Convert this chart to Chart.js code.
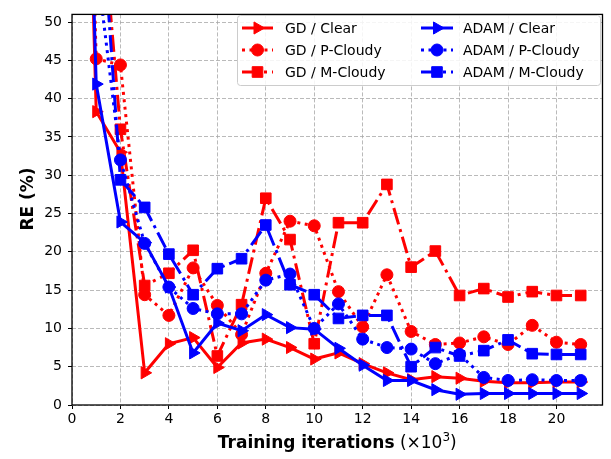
<!DOCTYPE html>
<html>
<head>
<meta charset="utf-8">
<script src="https://cdn.jsdelivr.net/npm/chart.js@4.4.1/dist/chart.umd.min.js"></script>
<style>
html,body{margin:0;padding:0;background:#fff;}
canvas{display:block;}
</style>
</head>
<body>
<canvas id="c" width="611" height="459"></canvas>
<script>
// Training iterations (x10^3)
const iterations = [0,1,2,3,4,5,6,7,8,9,10,11,12,13,14,15,16,17,18,19,20,21];
// RE (%) per series (x=0 values are off-chart, estimated)
const gdClear    = [150, 38.3, 33.0, 4.2, 8.0, 8.8, 4.9, 8.1, 8.6, 7.5, 6.0, 6.8, 5.4, 4.2, 3.3, 3.7, 3.5, 3.1, 2.9, 2.9, 3.0, 3.0];
const gdPCloudy  = [150, 45.2, 44.4, 14.4, 11.7, 17.9, 13.0, 9.2, 17.2, 24.0, 23.4, 14.8, 10.2, 17.0, 9.6, 7.9, 8.1, 8.9, 7.9, 10.4, 8.2, 7.9];
const gdMCloudy  = [150, 73.0, 36.0, 15.6, 17.2, 20.2, 6.4, 13.1, 27.0, 21.6, 8.0, 23.8, 23.8, 28.8, 18.0, 20.1, 14.3, 15.2, 14.1, 14.8, 14.3, 14.3];
const adamClear  = [150, 41.9, 23.9, 21.2, 15.4, 6.8, 10.7, 9.7, 11.8, 10.1, 9.9, 7.4, 5.2, 3.2, 3.2, 2.0, 1.4, 1.5, 1.5, 1.5, 1.5, 1.5];
const adamPCloudy= [150, 58.0, 32.0, 21.1, 15.4, 12.6, 11.9, 11.9, 16.3, 17.1, 10.0, 13.2, 8.6, 7.5, 7.3, 5.4, 6.6, 3.6, 3.2, 3.3, 3.2, 3.2];
const adamMCloudy= [150, 74.0, 29.4, 25.8, 19.7, 14.4, 17.8, 19.1, 23.5, 15.7, 14.4, 11.3, 11.7, 11.7, 5.0, 7.5, 6.4, 7.1, 8.5, 6.7, 6.6, 6.6];
const seriesLabels = ['GD / Clear','GD / P-Cloudy','GD / M-Cloudy','ADAM / Clear','ADAM / P-Cloudy','ADAM / M-Cloudy'];
const xTicks = [0,2,4,6,8,10,12,14,16,18,20];
const yTicks = [0,5,10,15,20,25,30,35,40,45,50];

const RED = '#ff0000', BLUE = '#0000ff';
const DOT = [3, 4.5];
const DASHDOT = [17, 5, 3, 5];
const styles = [
  {color: RED,  dash: [],      marker: 'tri'},
  {color: RED,  dash: DOT,     marker: 'circle'},
  {color: RED,  dash: DASHDOT, marker: 'square'},
  {color: BLUE, dash: [],      marker: 'tri'},
  {color: BLUE, dash: DOT,     marker: 'circle'},
  {color: BLUE, dash: DASHDOT, marker: 'square'}
];
const allValues = [gdClear, gdPCloudy, gdMCloudy, adamClear, adamPCloudy, adamMCloudy];

function pts(vals){ return iterations.map((x,i)=>({x:x, y:vals[i]})); }
const markerMap = {tri: {pointStyle:'triangle', rotation:90, r:7}, circle:{pointStyle:'circle', rotation:0, r:6}, square:{pointStyle:'rect', rotation:0, r:7.5}};

const datasets = allValues.map((vals,i)=>{
  const s = styles[i], m = markerMap[s.marker];
  return {
    label: seriesLabels[i],
    data: pts(vals),
    borderColor: s.color,
    backgroundColor: s.color,
    borderWidth: 3,
    borderDash: s.dash,
    borderCapStyle: 'butt',
    tension: 0,
    fill: false,
    pointStyle: m.pointStyle,
    rotation: m.rotation,
    pointRadius: m.r,
    pointBackgroundColor: s.color,
    pointBorderColor: s.color,
    pointBorderWidth: 1,
    order: 5 - i
  };
});

function drawMarker(ctx, kind, x, y, color){
  ctx.save();
  ctx.setLineDash([]);
  ctx.fillStyle = color; ctx.strokeStyle = color; ctx.lineWidth = 1;
  ctx.beginPath();
  if (kind === 'tri') {
    const r = 7; let a = Math.PI/2;
    ctx.moveTo(x + Math.sin(a)*r, y - Math.cos(a)*r);
    a += 2*Math.PI/3; ctx.lineTo(x + Math.sin(a)*r, y - Math.cos(a)*r);
    a += 2*Math.PI/3; ctx.lineTo(x + Math.sin(a)*r, y - Math.cos(a)*r);
    ctx.closePath();
  } else if (kind === 'circle') {
    ctx.arc(x, y, 6, 0, Math.PI*2);
  } else {
    const h = 7.5*Math.SQRT1_2; ctx.rect(x-h, y-h, 2*h, 2*h);
  }
  ctx.fill(); ctx.stroke();
  ctx.restore();
}

const decor = {
  id: 'decor',
  afterDatasetsDraw(chart){
    const ctx = chart.ctx, a = chart.chartArea;
    ctx.save();
    // frame
    ctx.strokeStyle = '#000'; ctx.lineWidth = 1.3; ctx.setLineDash([]);
    ctx.strokeRect(a.left, a.top, a.right - a.left, a.bottom - a.top);
    // legend box
    const bx = 237, by = 15, bw = 363, bh = 70;
    ctx.fillStyle = 'rgba(255,255,255,0.85)';
    ctx.strokeStyle = '#cccccc'; ctx.lineWidth = 1;
    ctx.beginPath();
    if (ctx.roundRect) ctx.roundRect(bx+0.5, by+0.5, bw, bh, 3); else ctx.rect(bx+0.5, by+0.5, bw, bh);
    ctx.fill(); ctx.stroke();
    const rows = [28, 50, 72];
    const cols = [{h0:242, h1:273, tx:285}, {h0:421, h1:453, tx:463}];
    ctx.font = '14px "DejaVu Sans"';
    ctx.textBaseline = 'middle'; ctx.textAlign = 'left';
    for (let i=0;i<6;i++){
      const c = cols[Math.floor(i/3)], y = rows[i%3], s = styles[i];
      ctx.save();
      ctx.strokeStyle = s.color; ctx.lineWidth = 3; ctx.lineCap = 'butt';
      ctx.setLineDash(s.dash);
      ctx.beginPath(); ctx.moveTo(c.h0, y); ctx.lineTo(c.h1, y); ctx.stroke();
      ctx.restore();
      drawMarker(ctx, s.marker, (c.h0+c.h1)/2, y, s.color);
      ctx.fillStyle = '#000';
      ctx.fillText(seriesLabels[i], c.tx, y+1);
    }
    // x title
    ctx.fillStyle = '#000';
    ctx.textBaseline = 'alphabetic';
    const cx = (a.left + a.right)/2, ty = 448;
    const p1 = 'Training iterations', p2 = ' (\u00d710', p3 = '3', p4 = ')';
    ctx.font = 'bold 17px "DejaVu Sans"'; const w1 = ctx.measureText(p1).width;
    ctx.font = '17px "DejaVu Sans"'; const w2 = ctx.measureText(p2).width, w4 = ctx.measureText(p4).width;
    ctx.font = '12px "DejaVu Sans"'; const w3 = ctx.measureText(p3).width;
    let x = cx - (w1+w2+w3+w4)/2;
    ctx.font = 'bold 17px "DejaVu Sans"'; ctx.fillText(p1, x, ty); x += w1;
    ctx.font = '17px "DejaVu Sans"'; ctx.fillText(p2, x, ty); x += w2;
    ctx.font = '12px "DejaVu Sans"'; ctx.fillText(p3, x, ty - 7); x += w3;
    ctx.font = '17px "DejaVu Sans"'; ctx.fillText(p4, x, ty);
    // y title
    ctx.save();
    ctx.translate(33, 199);
    ctx.rotate(-Math.PI/2);
    ctx.font = 'bold 17px "DejaVu Sans"';
    ctx.textAlign = 'center'; ctx.textBaseline = 'alphabetic';
    ctx.fillText('RE (%)', 0, 0);
    ctx.restore();
    ctx.restore();
  }
};

const gridOpts = {color:'#a8a8a8', lineWidth:0.8, borderDash:[4,2], tickColor:'#000', tickLength:4, tickWidth:1, tickBorderDash:[]};

new Chart(document.getElementById('c').getContext('2d'), {
  type: 'line',
  data: { datasets },
  options: {
    responsive: false, animation: false, devicePixelRatio: 1,
    layout: { padding: { left: 0, right: 6, top: 8, bottom: 0 } },
    plugins: { legend: {display:false}, tooltip: {enabled:false} },
    scales: {
      x: {
        type: 'linear', min: 0, max: 21.9,
        afterBuildTicks: s => { s.ticks = xTicks.map(v => ({value: v})); },
        afterFit: s => { s.height = 54; },
        ticks: { stepSize: 2, color:'#000', font:{family:'DejaVu Sans', size:14}, padding: 2, maxRotation:0, callback: v => String(v) },
        grid: gridOpts,
        border: { display:false, dash:[4,2] }
      },
      y: {
        type: 'linear', min: 0, max: 51,
        afterBuildTicks: s => { s.ticks = yTicks.map(v => ({value: v})); },
        afterFit: s => { s.width = 72; },
        ticks: { stepSize: 5, color:'#000', font:{family:'DejaVu Sans', size:14}, padding: 6, callback: v => String(v) },
        grid: gridOpts,
        border: { display:false, dash:[4,2] }
      }
    }
  },
  plugins: [decor]
});
</script>
</body>
</html>
